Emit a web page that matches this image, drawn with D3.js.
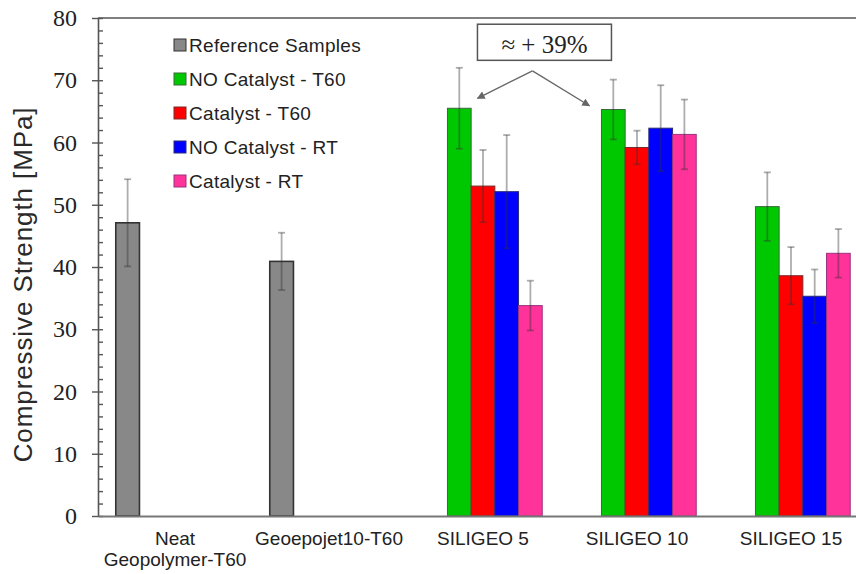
<!DOCTYPE html>
<html>
<head>
<meta charset="utf-8">
<script src="https://cdn.jsdelivr.net/npm/d3@7"></script>
<style>
	body { margin: 0; background: #fff; }
	svg { display: block; }
	.sans { font-family: "Liberation Sans", Arial, sans-serif; }
	.serif { font-family: "Liberation Serif", "Times New Roman", serif; }
</style>
</head>
<body>
<svg></svg>
<script>
// data
const categories = ["Neat\nGeopolymer-T60", "Geoepojet10-T60", "SILIGEO 5", "SILIGEO 10", "SILIGEO 15"];
const seriesNames = ["Reference Samples", "NO Catalyst - T60", "Catalyst - T60", "NO Catalyst - RT", "Catalyst - RT"];
const seriesColors = ["#888888", "#00c800", "#ff0000", "#0000ff", "#ff3399"];
const seriesBorders = ["#333333", "#3a6a3a", "#7a2a2a", "#2a2a7a", "#993380"];

const referenceValues = [47.1, 40.9, null, null, null];
const referenceErrors = [7.0, 4.6, null, null, null];
const noCatT60Values = [null, null, 65.5, 65.3, 49.7];
const noCatT60Errors = [null, null, 6.5, 4.8, 5.5];
const catT60Values = [null, null, 53.0, 59.2, 38.6];
const catT60Errors = [null, null, 5.8, 2.7, 4.6];
const noCatRTValues = [null, null, 52.1, 62.3, 35.3];
const noCatRTErrors = [null, null, 9.1, 6.9, 4.3];
const catRTValues = [null, null, 33.8, 61.3, 42.2];
const catRTErrors = [null, null, 4.0, 5.6, 3.9];

const yTicks = [0, 10, 20, 30, 40, 50, 60, 70, 80];
const annotationText = "\u2248 + 39%";

const valueSets = [referenceValues, noCatT60Values, catT60Values, noCatRTValues, catRTValues];
const errorSets = [referenceErrors, noCatT60Errors, catT60Errors, noCatRTErrors, catRTErrors];

const svg = d3.select("svg").attr("width", 856).attr("height", 574);

const y = d3.scaleLinear().domain([0, 80]).range([516, 18]);
const x = d3.scaleBand().domain(categories).range([98, 868]);
const xSeries = d3.scaleBand().domain(d3.range(5)).range([0, x.bandwidth()]).paddingOuter(0.75);

// flatten to bar records
const bars = [];
categories.forEach((c, ci) => {
	valueSets.forEach((vals, si) => {
		if (vals[ci] != null) bars.push({ cat: c, s: si, v: vals[ci], e: errorSets[si][ci] });
	});
});

// top frame line
svg.append("line")
	.attr("x1", 98).attr("x2", 856)
	.attr("y1", y(80)).attr("y2", y(80))
	.attr("stroke", "#808080").attr("stroke-width", 2);

// bars
svg.append("g").selectAll("rect")
	.data(bars)
	.join("rect")
	.attr("x", (d) => x(d.cat) + xSeries(d.s))
	.attr("y", (d) => y(d.v))
	.attr("width", xSeries.bandwidth())
	.attr("height", (d) => y(0) - y(d.v))
	.attr("fill", (d) => seriesColors[d.s])
	.attr("stroke", (d) => seriesBorders[d.s])
	.attr("stroke-width", (d) => (d.s === 0 ? 1.6 : 1));

// error bars
const errG = svg.append("g")
	.attr("stroke", "#333")
	.attr("stroke-opacity", 0.4)
	.attr("stroke-width", 1.8);
bars.forEach((d) => {
	const cx = x(d.cat) + xSeries(d.s) + xSeries.bandwidth() / 2;
	errG.append("line").attr("x1", cx).attr("x2", cx).attr("y1", y(d.v + d.e)).attr("y2", y(d.v - d.e));
	[d.v + d.e, d.v - d.e].forEach((v) => {
		errG.append("line").attr("x1", cx - 3.5).attr("x2", cx + 3.5).attr("y1", y(v)).attr("y2", y(v));
	});
});

// y axis, major and minor ticks
const yAxis = svg.append("g")
	.attr("transform", "translate(98,0)")
	.call(d3.axisLeft(y).tickValues(yTicks).tickSizeInner(6).tickSizeOuter(0).tickPadding(15));
yAxis.select(".domain").attr("stroke", "#555").attr("stroke-width", 1.6);
yAxis.selectAll(".tick line").attr("stroke", "#555").attr("stroke-width", 1.4);
yAxis.selectAll(".tick text")
	.attr("class", "serif")
	.attr("font-size", 24)
	.attr("fill", "#222");

const yMinor = svg.append("g")
	.attr("transform", "translate(98,0)")
	.call(d3.axisRight(y).tickValues(d3.range(0, 81, 2)).tickSize(5).tickFormat(""));
yMinor.select(".domain").remove();
yMinor.selectAll(".tick line").attr("stroke", "#555").attr("stroke-width", 1.4);

// x axis
const xAxis = svg.append("g")
	.attr("transform", `translate(0,${y(0)})`)
	.call(d3.axisBottom(x).tickSize(0).tickPadding(15.5));
xAxis.select(".domain").attr("stroke", "#777").attr("stroke-width", 2);
xAxis.selectAll(".tick text")
	.attr("class", "sans")
	.attr("font-size", 19)
	.attr("fill", "#222")
	.each(function (d) {
		const lines = d.split("\n");
		const t = d3.select(this).text(null);
		lines.forEach((ln, i) => {
			t.append("tspan").attr("x", 0).attr("dy", i === 0 ? "0.71em" : 21).text(ln);
		});
	})
	.attr("dy", null);

// y title
svg.append("text")
	.attr("class", "sans")
	.attr("transform", `translate(32,${y(37.2)}) rotate(-90)`)
	.attr("text-anchor", "middle")
	.attr("font-size", 26)
	.attr("letter-spacing", 0.9)
	.attr("fill", "#2a2a2a")
	.text("Compressive Strength [MPa]");

// legend
const legend = svg.append("g").attr("transform", "translate(174,45)");
seriesNames.forEach((name, i) => {
	const row = legend.append("g").attr("transform", `translate(0,${i * 34})`);
	row.append("rect")
		.attr("x", 0).attr("y", -6).attr("width", 12).attr("height", 12)
		.attr("fill", seriesColors[i])
		.attr("stroke", seriesBorders[i]).attr("stroke-width", 1);
	row.append("text")
		.attr("class", "sans")
		.attr("x", 15).attr("y", 0).attr("dy", "0.35em")
		.attr("font-size", 19)
		.attr("letter-spacing", 0.3)
		.attr("fill", "#222")
		.text(name);
});

// annotation box and arrows
const green5 = x("SILIGEO 5") + xSeries(1);
const green10 = x("SILIGEO 10") + xSeries(1);
const boxX0 = green5 + 30, boxX1 = green10 + 10;
svg.append("rect")
	.attr("x", boxX0).attr("y", y(79))
	.attr("width", boxX1 - boxX0).attr("height", y(73.2) - y(79))
	.attr("fill", "#fff").attr("stroke", "#555").attr("stroke-width", 1.5);
svg.append("text")
	.attr("class", "serif")
	.attr("x", (boxX0 + boxX1) / 2).attr("y", y(74.3))
	.attr("text-anchor", "middle")
	.attr("font-size", 25)
	.attr("fill", "#222")
	.text(annotationText);

svg.append("defs").append("marker")
	.attr("id", "arrow")
	.attr("viewBox", "0 0 10 10")
	.attr("refX", 9).attr("refY", 5)
	.attr("markerWidth", 8).attr("markerHeight", 8)
	.attr("markerUnits", "userSpaceOnUse")
	.attr("orient", "auto")
	.append("path").attr("d", "M0,0L10,5L0,10Z").attr("fill", "#666");

const apexX = green5 + 85, apexY = y(71.5);
[[green5 + 30, y(67.1)], [green10 - 12, y(65.9)]].forEach(([tx, ty]) => {
	svg.append("line")
		.attr("x1", apexX).attr("y1", apexY).attr("x2", tx).attr("y2", ty)
		.attr("stroke", "#666").attr("stroke-width", 1.3)
		.attr("marker-end", "url(#arrow)");
});
</script>
</body>
</html>
